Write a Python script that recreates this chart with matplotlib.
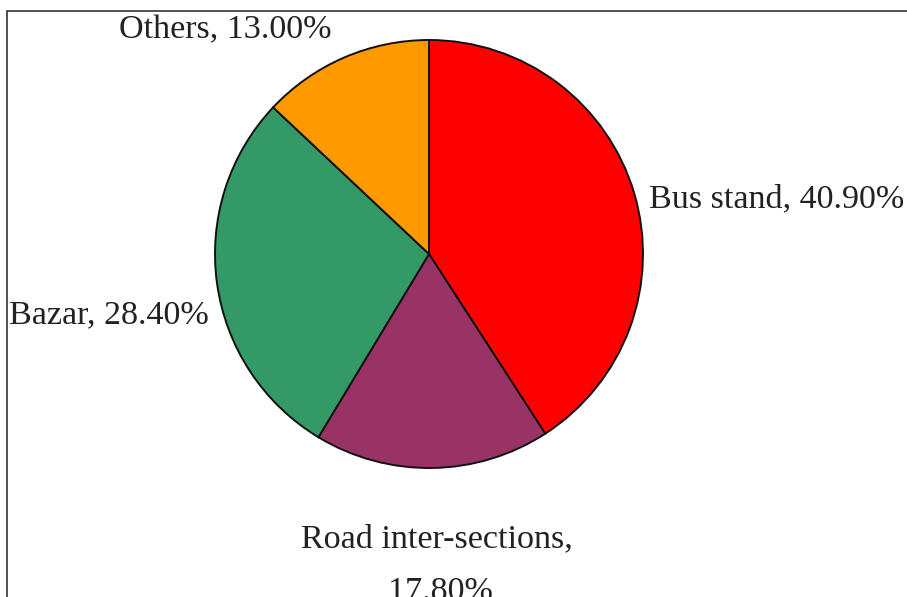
import matplotlib.pyplot as plt
from matplotlib.patches import Rectangle

# ===== data =====
places = ["Bus stand", "Road inter-sections", "Bazar", "Others"]
shares = [40.90, 17.80, 28.40, 13.00]
colors = ["#FF0000", "#993366", "#339966", "#FF9900"]

W, H = 907, 597


def main():
    fig = plt.figure(figsize=(W / 100, H / 100), dpi=100)
    ax = fig.add_axes([0, 0, 1, 1])

    # pie centre / radius measured in pixels (y from top)
    cx, cy, r = 429, 254, 214
    ax.pie(shares, colors=colors, startangle=90, counterclock=False,
           center=(cx, H - cy), radius=r, frame=True,
           wedgeprops=dict(edgecolor="#111111", linewidth=1.4))
    ax.set_xlim(0, W)
    ax.set_ylim(0, H)
    ax.set_aspect("equal")
    ax.axis("off")

    labels = [f"{p}, {v:.2f}%" for p, v in zip(places, shares)]

    font = dict(family="Liberation Serif", fontsize=24.6, color="#222222")
    # Bus stand
    ax.text(649, H - 207, labels[0], ha="left", va="baseline", **font)
    # Road inter-sections (wrapped over two lines)
    ax.text(437, H - 547, places[1] + ",", ha="center", va="baseline", **font)
    ax.text(440, H - 600, f"{shares[1]:.2f}%", ha="center", va="baseline", **font)
    # Bazar
    ax.text(9, H - 323, labels[2], ha="left", va="baseline", **font)
    # Others
    ax.text(225, H - 38, labels[3], ha="center", va="baseline", **font)

    # thin frame around the picture (left and top edges visible)
    ax.add_patch(Rectangle((7, -10), W + 20, H - 11 + 10, fill=False,
                           edgecolor="#333333", linewidth=1.2, clip_on=False))

    fig.savefig("out.png", dpi=100, facecolor="white")


if __name__ == "__main__":
    main()
